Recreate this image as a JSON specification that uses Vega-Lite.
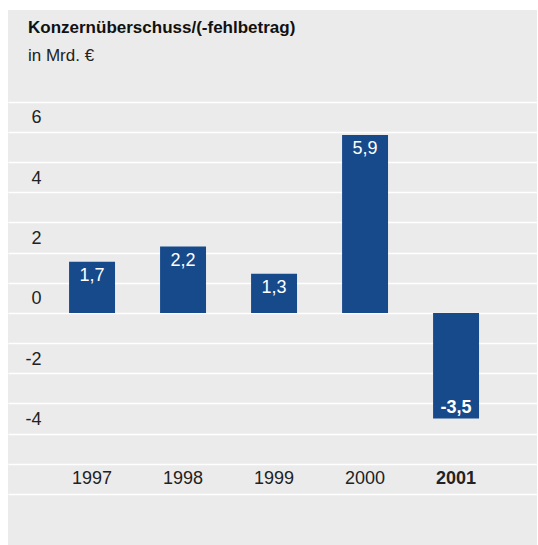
{
  "$schema": "https://vega.github.io/schema/vega-lite/v6.json",
  "autosize": {"type": "none"},
  "padding": {"left": 8, "top": 10, "right": 1, "bottom": 0},
  "width": 529,
  "height": 535,
  "background": "white",
  "config": {
    "view": {"stroke": null, "fill": "#ebebeb"},
    "font": "Liberation Sans"
  },
  "title": {
    "text": "Konzernüberschuss/(-fehlbetrag)",
    "subtitle": "in Mrd. €",
    "anchor": "start",
    "frame": "group",
    "orient": "top",
    "dx": 20,
    "offset": -55,
    "font": "Liberation Sans",
    "fontSize": 17,
    "fontWeight": "bold",
    "color": "#111111",
    "subtitleFont": "Liberation Sans",
    "subtitleFontSize": 17,
    "subtitleColor": "#222222",
    "subtitlePadding": 11
  },
  "data": {
    "values": [
      {"year": "1997", "value": 1.7, "label": "1,7"},
      {"year": "1998", "value": 2.2, "label": "2,2"},
      {"year": "1999", "value": 1.3, "label": "1,3"},
      {"year": "2000", "value": 5.9, "label": "5,9"},
      {"year": "2001", "value": -3.5, "label": "-3,5"}
    ]
  },
  "encoding": {
    "x": {
      "field": "year",
      "type": "nominal",
      "sort": null,
      "scale": {"paddingInner": 0.495, "paddingOuter": 0.654, "align": 0.513},
      "axis": {
        "orient": "bottom",
        "offset": -67,
        "title": null,
        "labelAngle": 0,
        "ticks": false,
        "tickSize": 0,
        "domain": false,
        "labelPadding": 0,
        "labelBaseline": "middle",
        "labelFontSize": 18,
        "labelColor": "#222222",
        "labelFontWeight": {"condition": {"test": "datum.value == '2001'", "value": "bold"}, "value": "normal"}
      }
    },
    "y": {
      "field": "value",
      "type": "quantitative",
      "scale": {"domain": [-7.69, 10.04], "nice": false, "zero": false},
      "axis": {
        "values": [-6, -5, -4, -3, -2, -1, 0, 1, 2, 3, 4, 5, 6, 7],
        "grid": true,
        "gridColor": "white",
        "gridWidth": 1.5,
        "gridOpacity": 1,
        "ticks": false,
        "tickSize": 0,
        "domain": false,
        "offset": -33,
        "labelPadding": 0,
        "labelOffset": -14,
        "labelOverlap": false,
        "labelFlush": false,
        "labelFontSize": 18,
        "labelColor": "#222222",
        "labelExpr": "(datum.value % 2 == 0 && datum.value >= -4 && datum.value <= 6) ? ('' + datum.value) : ''",
        "title": null
      }
    }
  },
  "layer": [
    {"mark": {"type": "bar", "color": "#174a8b"}},
    {
      "transform": [{"filter": "datum.value >= 0"}],
      "mark": {"type": "text", "baseline": "top", "dy": 5, "color": "white", "fontSize": 18},
      "encoding": {"text": {"field": "label"}}
    },
    {
      "transform": [{"filter": "datum.value < 0"}],
      "mark": {"type": "text", "baseline": "alphabetic", "dy": -6, "color": "white", "fontSize": 18, "fontWeight": "bold"},
      "encoding": {"text": {"field": "label"}}
    }
  ]
}
